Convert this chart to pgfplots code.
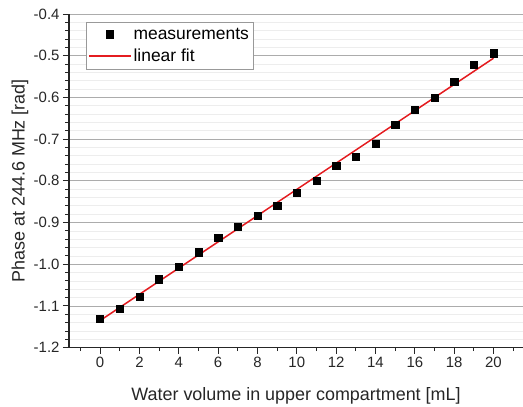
\documentclass[border=0pt]{standalone}
\usepackage{pgfplots}
\pgfplotsset{compat=1.18}
\usepackage{fontspec}
\setmainfont{Liberation Sans}
\definecolor{fitred}{RGB}{228,28,32}
\pgfplotsset{
  lineleg/.style={legend image code/.code={\draw[fitred, line width=1.6pt] (0bp,0bp) -- (42bp,0bp);}},
  markleg/.style={legend image code/.code={\draw[mark repeat=2,mark phase=2,##1] plot coordinates {(0bp,0bp) (21bp,0bp) (42bp,0bp)};}},
}
\begin{document}
\begin{tikzpicture}
\begin{axis}[
  scale only axis, width=454bp, height=333.7bp,
  xmin=-1.58, xmax=21.5, ymin=-1.2, ymax=-0.4,
  axis lines*=left,
  axis line style={-, line width=1.2pt, black!85},
  xtick={0,2,...,20}, minor xtick={-1,1,...,21},
  ytick={-1.2,-1.1,-1.0,-0.9,-0.8,-0.7,-0.6,-0.5,-0.4},
  minor ytick={-1.18,-1.16,...,-0.41},
  /pgf/number format/assume math mode=true,
  yticklabel style={/pgf/number format/.cd, fixed, fixed zerofill, precision=1},
  ticklabel style={font=\fontsize{15}{18}\selectfont, text=black!85},
  tick align=outside,
  tick style={black!85, line width=1pt},
  major tick length=6bp, minor tick length=3.5bp,
  ymajorgrids, yminorgrids,
  major grid style={gray!65, line width=0.8pt},
  minor grid style={gray!14, line width=0.8pt},
  xlabel={Water volume in upper compartment [mL]},
  ylabel={Phase at 244.6 MHz [rad]},
  label style={font=\fontsize{18}{21}\selectfont, text=black!85},
  xlabel style={at={(axis description cs:0.5,-0.1445)}, anchor=center},
  ylabel style={at={(axis description cs:-0.108,0.5)}, anchor=center},
  legend style={at={(0.037,0.977)}, anchor=north west, draw=gray!80, fill=white,
    font=\fontsize{17.5}{21}\selectfont, inner xsep=2bp, inner ysep=2bp,
    nodes={inner ysep=4bp}},
  legend cell align=left,
  clip=false,
]
\addplot[only marks, mark=square*, mark size=3.6bp, black, markleg]
  coordinates {
  (0,-1.131) (1,-1.107) (2,-1.077) (3,-1.036) (4,-1.005) (5,-0.971)
  (6,-0.936) (7,-0.910) (8,-0.884) (9,-0.860) (10,-0.828) (11,-0.800)
  (12,-0.764) (13,-0.742) (14,-0.711) (15,-0.666) (16,-0.629) (17,-0.600)
  (18,-0.562) (19,-0.522) (20,-0.494)
  };
\addlegendentry{measurements}
\addplot[fitred, line width=1.5pt, lineleg]
  coordinates {(0,-1.135) (20,-0.506)};
\addlegendentry{linear fit}
\end{axis}
\pgfresetboundingbox
\path ([xshift=-69bp,yshift=-59.3bp]current axis.south west) rectangle ([yshift=14bp]current axis.north east);
\end{tikzpicture}
\end{document}
